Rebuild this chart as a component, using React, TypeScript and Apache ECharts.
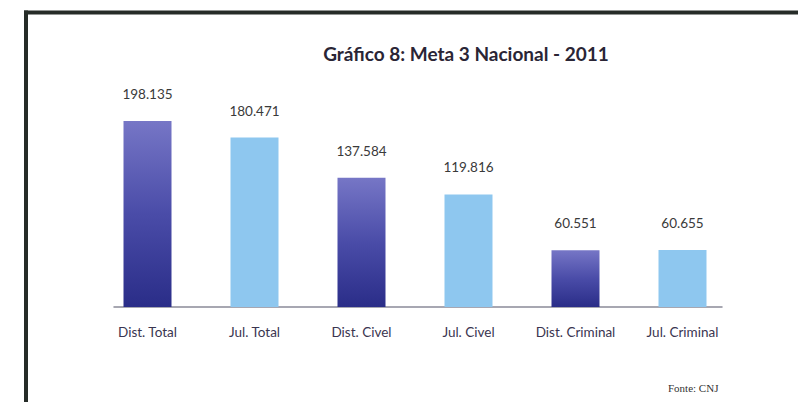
import React, { useEffect, useRef } from "react";
import * as echarts from "echarts";

const categories = ["Dist. Total", "Jul. Total", "Dist. Civel", "Jul. Civel", "Dist. Criminal", "Jul. Criminal"];
const values = [198135, 180471, 137584, 119816, 60551, 60655];
const kinds = ["dist", "jul", "dist", "jul", "dist", "jul"];
const title = "Gráfico 8: Meta 3 Nacional - 2011";
const source = "Fonte: CNJ";

const fmt = (v: number) => {
  const s = String(Math.round(v));
  return s.replace(/\B(?=(\d{3})+(?!\d))/g, ".");
};

const darkFill = new echarts.graphic.LinearGradient(0, 0, 0, 1, [
  { offset: 0, color: "#7676c6" },
  { offset: 0.5, color: "#4a4ca8" },
  { offset: 1, color: "#2a2d88" },
]);
const lightFill = "#8ec7ef";

export default function App() {
  const ref = useRef<HTMLDivElement>(null);
  useEffect(() => {
    if (!ref.current) return;
    const chart = echarts.init(ref.current, undefined, { renderer: "svg" });
    chart.setOption({
      animation: false,
      backgroundColor: "#ffffff",
      title: {
        text: title,
        left: 461,
        top: 39,
        textAlign: "center",
        textStyle: { fontFamily: "Lato", fontSize: 19, fontWeight: "bold", color: "#2a2535" },
      },
      graphic: [
        { type: "rect", shape: { x: 24, y: 10.5, width: 774, height: 4 }, style: { fill: "#262c28" } },
        { type: "rect", shape: { x: 24, y: 10.5, width: 4, height: 392 }, style: { fill: "#262c28" } },
        {
          type: "text",
          x: 668,
          y: 388,
          style: {
            text: source,
            fontFamily: "Liberation Serif",
            fontSize: 11,
            fill: "#333333",
            verticalAlign: "middle",
          },
        },
      ],
      grid: { left: 114, right: 76, top: 100.4, bottom: 95, containLabel: false },
      xAxis: {
        type: "value",
        min: -0.3131,
        max: 5.3692,
        splitLine: { show: false },
        axisTick: { show: false },
        axisLine: { show: true, lineStyle: { color: "#8a8a98", width: 1.5 } },
        axisLabel: {
          customValues: categories.map((_, i) => i),
          formatter: (v: number) => categories[Math.round(v)] ?? "",
          fontFamily: "Lato",
          fontSize: 13.5,
          color: "#3a3550",
          margin: 18,
        },
      },
      yAxis: { type: "value", min: 0, max: 220000, show: false, splitLine: { show: false } },
      series: [
        {
          type: "bar",
          barWidth: 48,
          data: values.map((v, i) => ({
            value: [i, v],
            itemStyle: { color: kinds[i] === "dist" ? darkFill : lightFill },
          })),
          label: {
            show: true,
            position: "top",
            distance: 20,
            fontFamily: "Lato",
            fontSize: 13.5,
            color: "#3a3a3a",
            formatter: (p: any) => fmt(p.value[1]),
          },
        },
      ],
    });
    return () => chart.dispose();
  }, []);
  return (
    <div
      ref={ref}
      style={{ position: "fixed", left: 0, top: 0, width: 798, height: 402 }}
    />
  );
}
